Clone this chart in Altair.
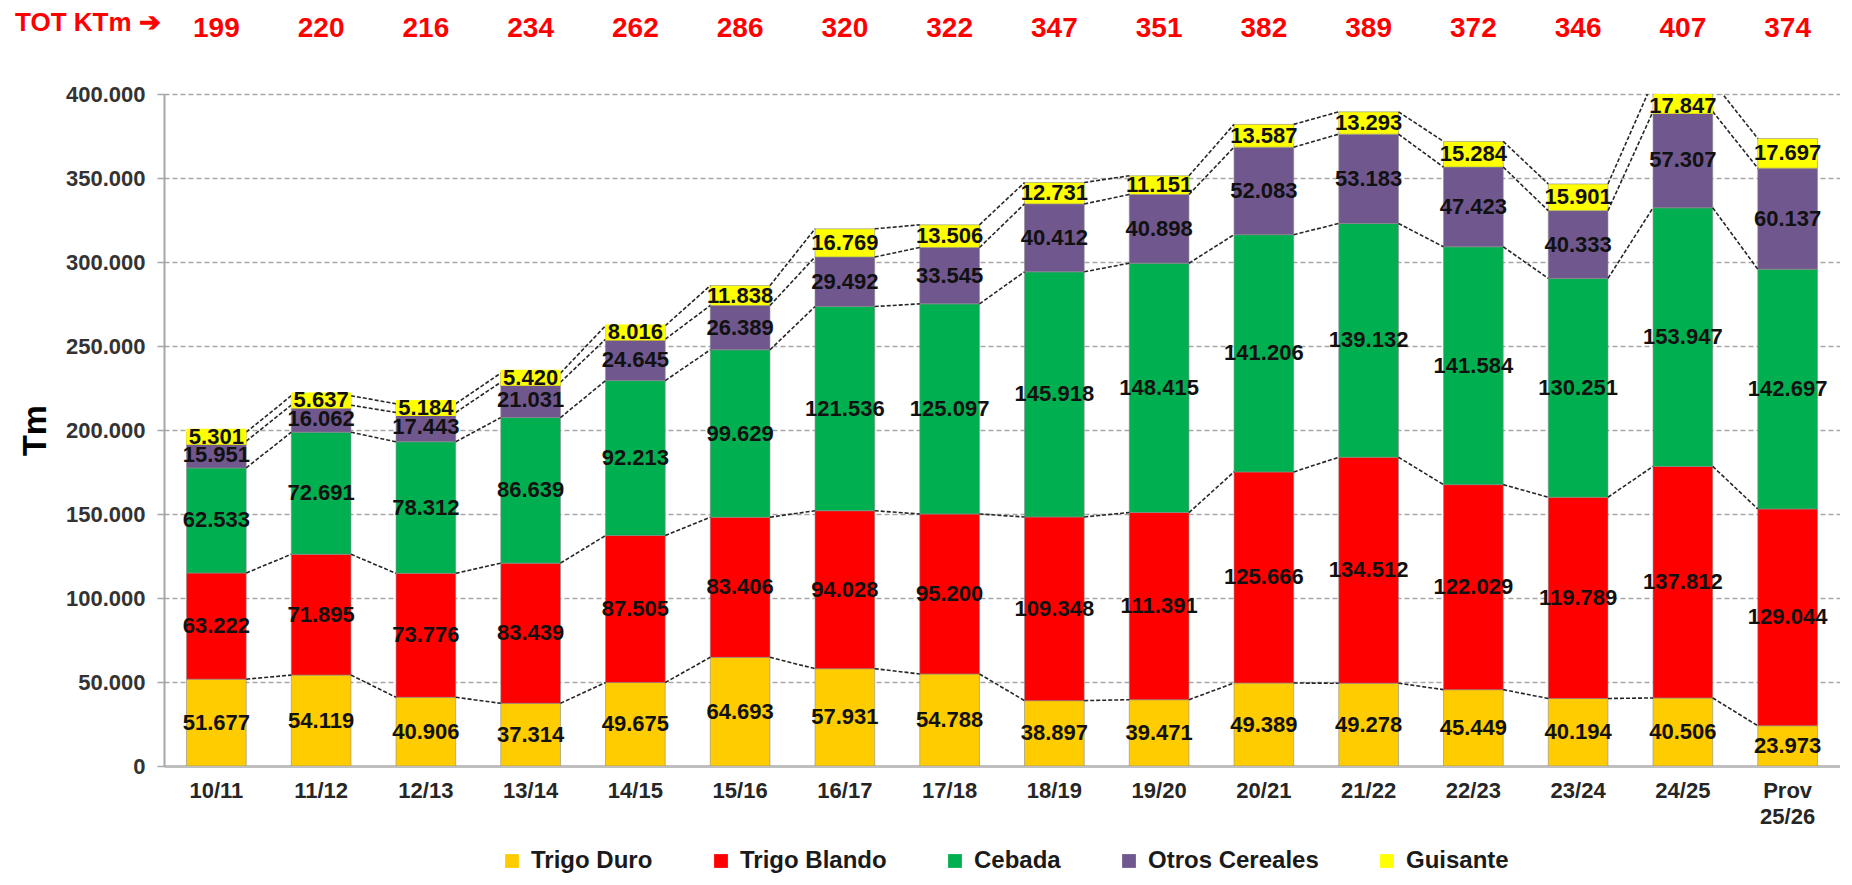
import altair as alt
import pandas as pd

years = ["10/11", "11/12", "12/13", "13/14", "14/15", "15/16", "16/17", "17/18",
         "18/19", "19/20", "20/21", "21/22", "22/23", "23/24", "24/25", "Prov 25/26"]

series = ["Trigo Duro", "Trigo Blando", "Cebada", "Otros Cereales", "Guisante"]
colors = ["#FFCC00", "#FF0000", "#00B050", "#70588F", "#FFFF00"]

trigo_duro = [51677, 54119, 40906, 37314, 49675, 64693, 57931, 54788,
              38897, 39471, 49389, 49278, 45449, 40194, 40506, 23973]
trigo_blando = [63222, 71895, 73776, 83439, 87505, 83406, 94028, 95200,
                109348, 111391, 125666, 134512, 122029, 119789, 137812, 129044]
cebada = [62533, 72691, 78312, 86639, 92213, 99629, 121536, 125097,
          145918, 148415, 141206, 139132, 141584, 130251, 153947, 142697]
otros = [15951, 16062, 17443, 21031, 24645, 26389, 29492, 33545,
         40412, 40898, 52083, 53183, 47423, 40333, 57307, 60137]
guisante = [5301, 5637, 5184, 5420, 8016, 11838, 16769, 13506,
            12731, 11151, 13587, 13293, 15284, 15901, 17847, 17697]
totals_kt = [199, 220, 216, 234, 262, 286, 320, 322, 347, 351, 382, 389, 372, 346, 407, 374]

y_ticks = [0, 50000, 100000, 150000, 200000, 250000, 300000, 350000, 400000]
Y_MAX = 400000

all_values = [trigo_duro, trigo_blando, cebada, otros, guisante]


def fmt(v):
    return f"{v:,}".replace(",", ".")


rows = []
cums = []
for i, yr in enumerate(years):
    c = 0
    levels = []
    for k, (s, vals) in enumerate(zip(series, all_values)):
        v = vals[i]
        rows.append(dict(year=yr, series=s, order=k, v=v, y0=c, y1=c + v,
                         mid=c + v / 2, label=fmt(v)))
        c += v
        levels.append(c)
    cums.append(levels)
df = pd.DataFrame(rows)

conn = []
for i in range(len(years) - 1):
    for k in range(len(series)):
        conn.append(dict(a=years[i], b=years[i + 1], ya=cums[i][k], yb=cums[i + 1][k]))
df_conn = pd.DataFrame(conn)

df_tot = pd.DataFrame(dict(year=years, tot=[str(t) for t in totals_kt]))

FONT = "Liberation Sans, Arial, sans-serif"
NARROW = "Liberation Sans Narrow, Liberation Sans, Arial, sans-serif"

xscale = alt.Scale(domain=years, paddingInner=0.43, paddingOuter=0.215)
yscale = alt.Scale(domain=[0, Y_MAX], nice=False)

x_enc = alt.X(
    "year:N", sort=years, scale=xscale, title=None,
    axis=alt.Axis(labelAngle=0, labelFont=FONT, labelFontSize=22, labelFontWeight="bold",
                  labelColor="#262626", labelPadding=14, labelLineHeight=26,
                  labelExpr="split(datum.label, ' ')", ticks=False,
                  domainColor="#bfbfbf", domainWidth=3, grid=False),
)
y_enc = alt.Y(
    "y0:Q", scale=yscale,
    axis=alt.Axis(values=y_ticks, labelFont=FONT, labelFontSize=22, labelFontWeight="bold",
                  labelColor="#333333", labelPadding=12, tickSize=7, tickColor="#a6a6a6",
                  tickWidth=1.5, domainColor="#a6a6a6", domainWidth=2,
                  grid=True, gridColor="#a6a6a6", gridDash=[5, 3], gridWidth=1.5,
                  labelExpr="datum.value == 0 ? '0' : (datum.value / 1000) + '.000'",
                  title="Tm", titleFont=FONT, titleFontSize=34, titleFontWeight="bold",
                  titleColor="#000000", titleAngle=-90, titleX=-129, titleY=336,
                  titleAlign="center", titleBaseline="middle"),
)

bars = alt.Chart(df).mark_bar(clip=True, stroke="#8c8c8c", strokeWidth=0.6).encode(
    x=x_enc,
    y=y_enc,
    y2="y1:Q",
    color=alt.Color(
        "series:N",
        scale=alt.Scale(domain=series, range=colors),
        legend=alt.Legend(
            title=None, orient="none", direction="horizontal", legendX=336, legendY=755,
            labelFont=FONT, labelFontSize=24, labelFontWeight="bold", labelColor="#1a1a1a",
            labelLimit=0, symbolType="square", symbolSize=190, symbolStrokeWidth=0,
            labelOffset=7, columnPadding=56,
        ),
    ),
    order="order:Q",
)

connectors = alt.Chart(df_conn).mark_rule(
    clip=True, color="#262626", strokeDash=[4, 2], strokeWidth=1.6
).encode(
    x=alt.X("a:N", sort=years, scale=xscale, bandPosition=1, title=None),
    x2=alt.X2("b:N", bandPosition=0),
    y=alt.Y("ya:Q", scale=yscale),
    y2="yb:Q",
)

guis = df[df.series == "Guisante"]
hl = alt.Chart(guis).transform_calculate(
    pos=f"min(datum.mid, {Y_MAX - 7000})"
).mark_tick(color="#FFFF00", thickness=16, size=60, opacity=1).encode(
    x=alt.X("year:N", sort=years, scale=xscale, title=None),
    y=alt.Y("pos:Q", scale=yscale),
)

labels = alt.Chart(df).transform_calculate(
    pos=f"min(datum.mid, {Y_MAX - 7000})"
).mark_text(font=FONT, fontSize=22, fontWeight="bold", color="#111111",
            baseline="middle").encode(
    x=alt.X("year:N", sort=years, scale=xscale, title=None),
    y=alt.Y("pos:Q", scale=yscale),
    text="label:N",
)

totals = alt.Chart(df_tot).mark_text(
    font=NARROW, fontSize=28, fontWeight="bold", color="#FF0000", baseline="middle"
).encode(
    x=alt.X("year:N", sort=years, scale=xscale, title=None),
    y=alt.value(-65),
    text="tot:N",
)

tot_title = alt.Chart(pd.DataFrame(dict(t=["TOT KTm ➔"]))).mark_text(
    font=FONT, fontSize=26, fontWeight="bold", color="#FF0000", align="left",
    baseline="middle"
).encode(
    x=alt.value(-149),
    y=alt.value(-71),
    text="t:N",
)

chart = alt.layer(bars, connectors, hl, labels, totals, tot_title).properties(
    width=1676, height=672,
    autosize=alt.AutoSizeParams(type="none"),
    padding={"left": 156, "top": 86, "right": 0, "bottom": 111},
).configure_view(stroke=None)

chart.save("out.html", embed_options={"renderer": "svg", "actions": False})
